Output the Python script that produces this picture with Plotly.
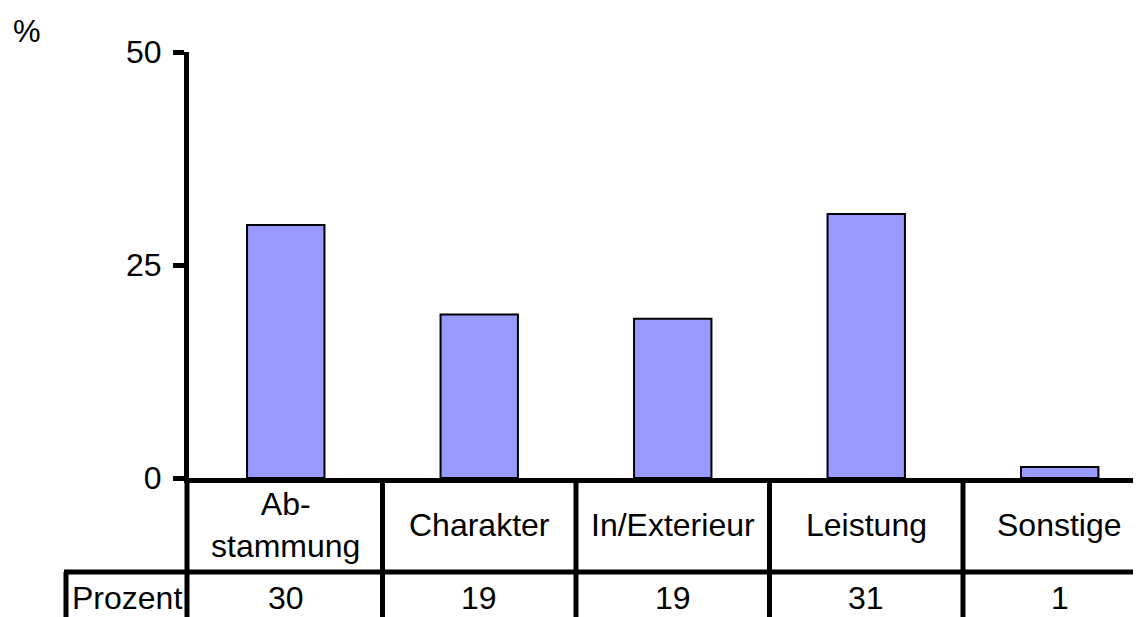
import plotly.graph_objects as go

# ---- data ----
categories = ["Abstammung", "Charakter", "In/Exterieur", "Leistung", "Sonstige"]
category_labels = ["Ab-<br>stammung", "Charakter", "In/Exterieur", "Leistung", "Sonstige"]
values = [29.7, 19.2, 18.7, 31.0, 1.3]
table_values = ["30", "19", "19", "31", "1"]
row_label = "Prozent"
y_ticks = [0, 25, 50]
y_title = "%"

FONT = "Liberation Sans, Arial, sans-serif"
FS = 32
LW = 5

# the page body has an 8px default margin; compensate so page pixels match
OFF = 8
W, H = 1141 - OFF, 617 - OFF
L = 189 - OFF
T = 52 - OFF
plot_bottom = 478 - OFF
B = H - plot_bottom
R = 0
x_range = [-0.5, 4.42]
y_range = [0, 50]

plot_w = W - L - R
plot_h = H - T - B


def xd(v):
    """data x -> paper fraction"""
    return (v - x_range[0]) / (x_range[1] - x_range[0])


def py(pix):
    """page pixel y -> paper fraction"""
    return (plot_bottom - (pix - OFF)) / plot_h


def px(pix):
    """page pixel x -> paper fraction"""
    return ((pix - OFF) - L) / plot_w


fig = go.Figure()
fig.add_trace(go.Bar(
    x=list(range(len(categories))),
    y=values,
    width=0.4,
    marker=dict(color="#9999FF", line=dict(color="black", width=2)),
    hovertext=categories,
    showlegend=False,
))

line = dict(color="black", width=LW)
shapes = []
row1_bottom = py(572)
bottom = py(640)
# horizontal line between rows
shapes.append(dict(type="line", xref="paper", yref="paper",
                   x0=px(64), x1=1.02, y0=row1_bottom, y1=row1_bottom, line=line))
# continuation of y axis into the table
shapes.append(dict(type="line", xref="paper", yref="paper",
                   x0=px(187), x1=px(187), y0=0, y1=bottom, line=line))
# left border of row label cell
shapes.append(dict(type="line", xref="paper", yref="paper",
                   x0=px(66), x1=px(66), y0=row1_bottom, y1=bottom, line=line))
# column dividers between categories
for i in range(len(categories) - 1):
    xv = xd(i + 0.5)
    shapes.append(dict(type="line", xref="paper", yref="paper",
                       x0=xv, x1=xv, y0=0, y1=bottom, line=line))

annotations = []
for i, lab in enumerate(category_labels):
    annotations.append(dict(x=i, xref="x", y=py(525), yref="paper",
                            text=lab, showarrow=False, xanchor="center", yanchor="middle",
                            font=dict(family=FONT, size=FS, color="black")))
for i, v in enumerate(table_values):
    annotations.append(dict(x=i, xref="x", y=py(598), yref="paper",
                            text=v, showarrow=False, xanchor="center", yanchor="middle",
                            font=dict(family=FONT, size=FS, color="black")))
annotations.append(dict(x=px(127), xref="paper", y=py(598), yref="paper",
                        text=row_label, showarrow=False, xanchor="center", yanchor="middle",
                        font=dict(family=FONT, size=FS, color="black")))
annotations.append(dict(x=px(27), xref="paper", y=py(31), yref="paper",
                        text=y_title, showarrow=False, xanchor="center", yanchor="middle",
                        font=dict(family=FONT, size=31, color="black")))

fig.update_layout(
    width=W, height=H,
    margin=dict(l=L, r=R, t=T, b=B, pad=0),
    paper_bgcolor="white", plot_bgcolor="white",
    font=dict(family=FONT, size=FS, color="black"),
    shapes=shapes,
    annotations=annotations,
    xaxis=dict(range=x_range, showgrid=False, zeroline=False, showticklabels=False,
               ticks="", showline=True, linecolor="black", linewidth=LW, fixedrange=True),
    yaxis=dict(range=y_range, tickvals=y_ticks, showgrid=False, zeroline=False,
               ticks="outside", ticklen=11, tickwidth=LW, tickcolor="black",
               ticklabelstandoff=5,
               showline=True, linecolor="black", linewidth=LW,
               tickfont=dict(family=FONT, size=FS, color="black"), fixedrange=True),
)

fig.write_html("out.html")
